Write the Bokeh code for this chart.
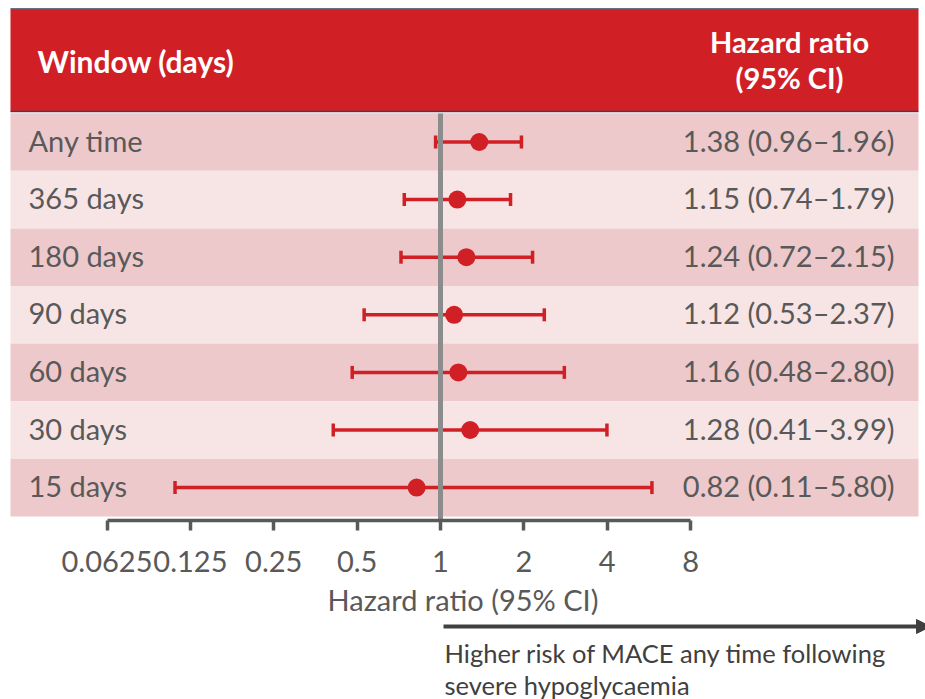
import math
from bokeh.plotting import figure
from bokeh.models import Range1d, FixedTicker, Arrow, NormalHead, ColumnDataSource
from bokeh.layouts import column
from bokeh.embed import file_html
from bokeh.resources import INLINE
from bokeh.core.properties import value

# ---- data ----
windows = ["Any time", "365 days", "180 days", "90 days", "60 days", "30 days", "15 days"]
hr = [1.38, 1.15, 1.24, 1.12, 1.16, 1.28, 0.82]
ci_low = [0.96, 0.74, 0.72, 0.53, 0.48, 0.41, 0.11]
ci_high = [1.96, 1.79, 2.15, 2.37, 2.80, 3.99, 5.80]
hr_text = ["1.38 (0.96–1.96)", "1.15 (0.74–1.79)", "1.24 (0.72–2.15)", "1.12 (0.53–2.37)",
           "1.16 (0.48–2.80)", "1.28 (0.41–3.99)", "0.82 (0.11–5.80)"]
tick_values = [0.0625, 0.125, 0.25, 0.5, 1, 2, 4, 8]
tick_labels = ["0.0625", "0.125", "0.25", "0.5", "1", "2", "4", "8"]
header_left = "Window (days)"
header_right = ["Hazard ratio", "(95% CI)"]
axis_title = "Hazard ratio (95% CI)"
note_lines = ["Higher risk of MACE any time following", "severe hypoglycaemia"]

# ---- layout helpers (pixel -> data) ----
K = 83.37      # px per doubling
X1 = 440.0     # px of HR = 1
def xpx(px):
    return 2 ** ((px - X1) / K)

Y0 = 141.5     # px centre of first row
H = 57.6       # row height px
def ypx(px):
    return (px - Y0) / H

TXT_DY = -2.0 / H   # small upward nudge for text glyphs

FONT = "Lato"
RED = "#D11F26"
GREY_TXT = "#595959"
n = len(windows)
idx = list(range(n))
TOP_H = 580

p = figure(width=925, height=TOP_H, x_axis_type="log",
           x_range=Range1d(xpx(0), xpx(925)), y_range=Range1d(ypx(520), ypx(0)),
           toolbar_location=None, output_backend="svg",
           min_border_left=0, min_border_right=0, min_border_top=0, min_border_bottom=TOP_H - 520,
           y_axis_location=None, outline_line_color=None, background_fill_color="white",
           border_fill_color="white")
p.xgrid.visible = False
p.ygrid.visible = False

# header band
p.quad(left=[xpx(10)], right=[xpx(918)], top=[ypx(9)], bottom=[ypx(111)],
       fill_color=RED, line_color=None)
p.segment(x0=[xpx(10)] * 2, x1=[xpx(918)] * 2, y0=[ypx(8.5), ypx(111)], y1=[ypx(8.5), ypx(111)],
          line_color="#3d3f55", line_width=1.5)

# row bands
row_colors = ["#EDC9CB" if i % 2 == 0 else "#F7E5E6" for i in idx]
p.quad(left=[xpx(10)] * n, right=[xpx(918)] * n,
       top=[i - 0.5 for i in idx], bottom=[i + 0.5 for i in idx],
       fill_color=row_colors, line_color=None)

# header texts
p.text(x=[xpx(37)], y=[ypx(60)], text=[header_left], text_color="white",
       text_font=value(FONT), text_font_style="bold", text_font_size="30px",
       text_align="left", text_baseline="middle")
p.text(x=[xpx(789)] * 2, y=[ypx(41), ypx(77)], text=header_right, text_color="white",
       text_font=value(FONT), text_font_style="bold", text_font_size="29px",
       text_align="center", text_baseline="middle")

# row labels and values
p.text(x=[xpx(28)] * n, y=[i + TXT_DY for i in idx], text=windows, text_color=GREY_TXT,
       text_font=value(FONT), text_font_size="29px", text_align="left", text_baseline="middle")
p.text(x=[xpx(894)] * n, y=[i + TXT_DY for i in idx], text=hr_text, text_color=GREY_TXT,
       text_font=value(FONT), text_font_size="29px", text_align="right", text_baseline="middle")

# CI lines and caps
src = ColumnDataSource(dict(y=idx, hr=hr, lo=ci_low, hi=ci_high))
p.segment(x0="lo", x1="hi", y0="y", y1="y", source=src, line_color=RED, line_width=3.5)

# reference line at HR = 1
p.segment(x0=[1], x1=[1], y0=[ypx(113)], y1=[ypx(520)], line_color="#8C8C8C", line_width=5)

p.rect(x="lo", y="y", width=3.5, height=13, width_units="screen", height_units="screen",
       source=src, fill_color=RED, line_color=None)
p.rect(x="hi", y="y", width=3.5, height=13, width_units="screen", height_units="screen",
       source=src, fill_color=RED, line_color=None)
p.scatter(x="hr", y="y", source=src, size=18, fill_color=RED, line_color=None)

# axis
ax = p.xaxis[0]
ax.ticker = FixedTicker(ticks=tick_values)
ax.major_label_overrides = {v: s for v, s in zip(tick_values, tick_labels)}
ax.bounds = (tick_values[0], tick_values[-1])
ax.axis_line_color = GREY_TXT
ax.axis_line_width = 3.5
ax.major_tick_line_color = GREY_TXT
ax.major_tick_line_width = 3.5
ax.major_tick_in = 0
ax.major_tick_out = 10
ax.minor_tick_line_color = None
ax.major_label_standoff = 20
ax.major_label_text_font = FONT
ax.major_label_text_font_size = "29px"
ax.major_label_text_color = GREY_TXT

# bottom panel: axis title, arrow and note
BOT_H = 699 - TOP_H
q = figure(width=925, height=BOT_H, x_axis_type="log", x_range=p.x_range,
           y_range=Range1d(BOT_H, 0), toolbar_location=None, output_backend="svg",
           min_border=0, x_axis_location=None, y_axis_location=None,
           outline_line_color=None, background_fill_color="white", border_fill_color="white")
q.xgrid.visible = False
q.ygrid.visible = False
q.text(x=[xpx(462.5)], y=[599 - TOP_H], text=[axis_title], text_color=GREY_TXT,
       text_font=value(FONT), text_font_size="29px", text_align="center", text_baseline="middle")
q.add_layout(Arrow(end=NormalHead(size=14, fill_color="#404040", line_color="#404040"),
                   x_start=xpx(443), y_start=626 - TOP_H, x_end=xpx(930), y_end=626 - TOP_H,
                   line_color="#404040", line_width=4))
q.text(x=[xpx(444)] * 2, y=[652 - TOP_H, 684 - TOP_H], text=note_lines, text_color="#404040",
       text_font=value(FONT), text_font_size="25.5px", text_align="left", text_baseline="middle")

layout = column(p, q, spacing=0)
open("out.html", "w").write(file_html(layout, INLINE))
